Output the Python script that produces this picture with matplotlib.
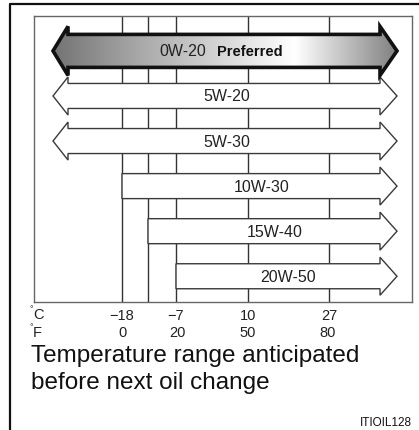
import numpy as np
import matplotlib
matplotlib.use("Agg")
import matplotlib.pyplot as plt
from matplotlib.patches import Polygon
from matplotlib.collections import PolyCollection
from matplotlib.lines import Line2D

plt.rcParams["font.family"] = ["Liberation Sans", "DejaVu Sans"]

# ---- data -----------------------------------------------------------------
grades = ["0W-20", "5W-20", "5W-30", "10W-30", "15W-40", "20W-50"]
low_limit_c = [None, None, None, -18, -12, -7]   # None: usable at any low temperature
preferred = [True, False, False, False, False, False]
tick_c = [-18, -7, 10, 27]
tick_f = [0, 20, 50, 80]
grid_c = [-18, -12, -7, 10, 27]

# ---- schematic temperature axis (not to linear scale) ----------------------
KC = np.array([-36.0, -18.0, -12.0, -7.0, 10.0, 27.0, 44.5])
KP = np.array([34.0, 122.0, 148.0, 176.0, 248.0, 329.0, 412.0])


def _pw(t, xs, ys):
    t = np.asarray(t, dtype=float)
    y = np.interp(t, xs, ys)
    y = np.where(t < xs[0], ys[0] + (t - xs[0]) * (ys[1] - ys[0]) / (xs[1] - xs[0]), y)
    y = np.where(t > xs[-1], ys[-1] + (t - xs[-1]) * (ys[-1] - ys[-2]) / (xs[-1] - xs[-2]), y)
    return y


def fwd(t):
    return _pw(t, KC, KP)


def inv(p):
    return _pw(p, KP, KC)


def f2c(f):
    return (np.asarray(f, float) - 32) * 5 / 9


W, H = 419, 431
fig = plt.figure(figsize=(W / 100, H / 100), dpi=100)
fig.patch.set_facecolor("white")

ax = fig.add_axes([34 / W, (H - 303) / H, 378 / W, 286 / H])
ax.set_xscale("function", functions=(fwd, inv))
ax.set_xlim(KC[0], KC[-1])
ROW = 45.07
Y_BOT, Y_TOP = (303 - 51.9) / ROW, (17 - 51.9) / ROW
ax.set_ylim(Y_BOT, Y_TOP)
ax.set_yticks([])
for s in ax.spines.values():
    s.set_color("#666666")
    s.set_linewidth(1.0)

# vertical guide lines
ax.vlines(grid_c, Y_BOT, Y_TOP, colors="#333333", linewidth=1.0, zorder=1)

# arrow geometry, in layout units along the axis
TAIL_TIP, HEAD_L, TIP, HEAD_R = 53.0, 15.0, 397.0, 17.0


def arrow_vertices(lo, row, body, head):
    start = TAIL_TIP + HEAD_L if lo is None else float(fwd(lo))
    end = TIP - HEAD_R
    pts = [(start, row - body), (end, row - body), (end, row - head), (TIP, row),
           (end, row + head), (end, row + body), (start, row + body)]
    if lo is None:
        pts += [(start, row + head), (TAIL_TIP, row), (start, row - head)]
    return [(float(inv(p)), r) for p, r in pts], start


def gray_level(p):
    return np.interp(p, [53, 140, 295, 397], [0.45, 0.66, 1.0, 0.5])


LBL = 11.5
for i, (g, lo, pref) in enumerate(zip(grades, low_limit_c, preferred)):
    if pref:
        body, head = 16.5 / ROW, 24.5 / ROW
    else:
        body, head = 12.5 / ROW, 19.0 / ROW
    verts, start = arrow_vertices(lo, i, body, head)
    left = TAIL_TIP if lo is None else start
    if pref:
        base = Polygon(verts, closed=True, facecolor="white", edgecolor="none", zorder=2)
        ax.add_patch(base)
        ps = np.arange(left, TIP + 1, 1.0)
        strips = [[(float(inv(a)), i - head - 0.1), (float(inv(a + 1.2)), i - head - 0.1),
                   (float(inv(a + 1.2)), i + head + 0.1), (float(inv(a)), i + head + 0.1)]
                  for a in ps]
        cols = [(v, v, v) for v in gray_level(ps + 0.5)]
        pc = PolyCollection(strips, facecolors=cols, edgecolors="none", zorder=3)
        ax.add_collection(pc)
        pc.set_clip_path(base)
        ax.add_patch(Polygon(verts, closed=True, facecolor="none", edgecolor="#111111",
                             linewidth=2.6, joinstyle="miter", zorder=4))
        cx = (TAIL_TIP + TIP) / 2
        ax.text(float(inv(cx - 19)), i, g, ha="right", va="center", fontsize=LBL,
                color="#222222", zorder=5)
        ax.text(float(inv(cx - 8)), i, "Preferred", ha="left", va="center", fontsize=10.5,
                fontweight="bold", color="#111111", zorder=5)
    else:
        ax.add_patch(Polygon(verts, closed=True, facecolor="white", edgecolor="#3a3a3a",
                             linewidth=1.0, joinstyle="miter", zorder=2))
        cx = (left + TIP) / 2 + 2
        ax.text(float(inv(cx)), i, g, ha="center", va="center", fontsize=LBL,
                color="#222222", zorder=5)

# temperature labels
TK = 10.5
ax.set_xticks(tick_c)
ax.set_xticklabels([str(t).replace("-", "\u2212") for t in tick_c], fontsize=TK,
                   color="#222222")
ax.tick_params(axis="x", length=0, pad=4)
ax.minorticks_off()
xt = ax.get_xaxis_transform()
yF = (303 - 333) / 286
for f in tick_f:
    ax.text(float(f2c(f)), yF, str(f), transform=xt, ha="center", va="center",
            fontsize=TK, color="#222222")


def ftext(x, y, s, **kw):
    fig.text(x / W, 1 - y / H, s, **kw)


ftext(29, 310, "\u00b0", fontsize=6.5, color="#222222", ha="left", va="center")
ftext(33, 315, "C", fontsize=TK, color="#222222", ha="left", va="center")
ftext(29, 328, "\u00b0", fontsize=6.5, color="#222222", ha="left", va="center")
ftext(33, 333, "F", fontsize=TK, color="#222222", ha="left", va="center")

ftext(31, 362, "Temperature range anticipated", fontsize=17.5, color="#111111",
      ha="left", va="baseline")
ftext(31, 389, "before next oil change", fontsize=17.5, color="#111111",
      ha="left", va="baseline")
ftext(360, 426, "ITIOIL128", fontsize=8.5, color="#111111", ha="left", va="baseline")

# outer frame
fig.add_artist(Line2D([10 / W, 10 / W, 1.0], [0.0, 1 - 5 / H, 1 - 5 / H],
                      transform=fig.transFigure, color="#111111", linewidth=1.6))

fig.savefig("out.png", dpi=100, facecolor="white")
